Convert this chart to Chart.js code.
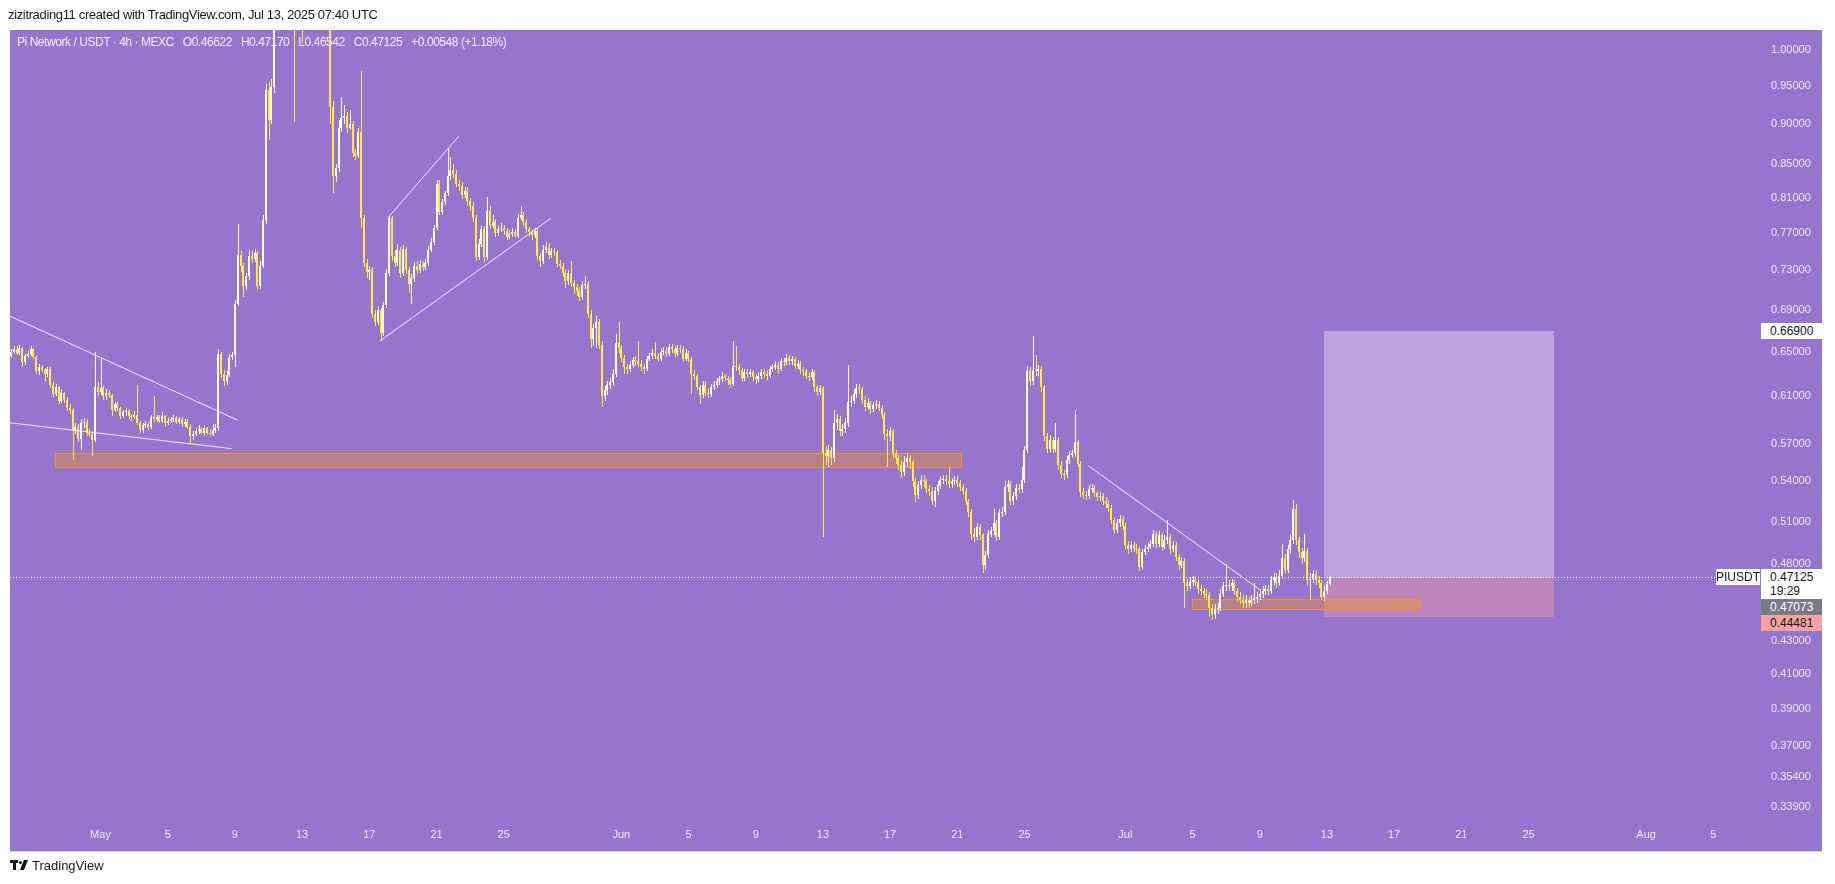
<!DOCTYPE html>
<html>
<head>
<meta charset="utf-8">
<title>Pi Network / USDT 4h</title>
<script src="https://cdn.jsdelivr.net/npm/chart.js@4.4.1/dist/chart.umd.min.js"></script>
<style>
  html, body { margin:0; padding:0; background:#ffffff; }
  #stage { position:relative; width:1835px; height:884px; overflow:hidden; font-family:'Liberation Sans', Arial, sans-serif; }
  #chart { position:absolute; left:0; top:0; }
  .txt { position:absolute; white-space:pre; }
  #credit { left:8px; top:7px; font-size:13px; letter-spacing:-0.35px; color:#131722; }
  #legend { left:17px; top:35px; font-size:12px; letter-spacing:-0.45px; color:#F4F0FB; }
  #legend span { margin-right:9px; }
  .plabel { position:absolute; left:1761px; width:61px; box-sizing:border-box; padding-left:9px; font-size:12px; line-height:16px; height:16px; color:#131722; }
  #lblTarget { background:#ffffff; }
  #lblLast { background:#ffffff; height:30px; line-height:14px; padding-top:1px; }
  #lblEntry { background:#787B86; color:#ffffff; }
  #lblStop { background:#F7A1A1; }
  #lblSym { position:absolute; left:1716px; width:44px; height:16px; line-height:16px; font-size:12px; background:#ffffff; color:#131722; text-align:center; }
  #footer { left:32px; top:858px; font-size:13px; color:#131722; }
  .logo { position:absolute; background:#131722; }
</style>
</head>
<body>
<div id="stage">
  <canvas id="chart" width="1835" height="884"></canvas>
  <div id="credit" class="txt">zizitrading11 created with TradingView.com, Jul 13, 2025 07:40 UTC</div>
  <div id="legend" class="txt"><span>Pi Network / USDT · 4h · MEXC</span><span>O0.46622</span><span>H0.47170</span><span>L0.46542</span><span>C0.47125</span><span>+0.00548 (+1.18%)</span></div>
  <div id="lblTarget" class="plabel">0.66900</div>
  <div id="lblSym">PIUSDT</div>
  <div id="lblLast" class="plabel">0.47125<br>19:29</div>
  <div id="lblEntry" class="plabel">0.47073</div>
  <div id="lblStop" class="plabel">0.44481</div>
  <div class="logo" style="left:10px;top:860px;width:8px;height:3px;"></div>
  <div class="logo" style="left:13px;top:860px;width:3px;height:10px;"></div>
  <div class="logo" style="left:19px;top:861px;width:3px;height:3px;border-radius:50%;"></div>
  <div class="logo" style="left:22px;top:860px;width:4px;height:10px;transform:skewX(-22deg);"></div>
  <div id="footer" class="txt">TradingView</div>
</div>
<script>
// ---- data: PI/USDT 4h candles (MEXC), first bar = Apr 25 16:00 UTC ----
const firstBar = -32;          // bar offset (4h bars) from May 1 00:00 UTC
const firstOpen = 0.646;

const closes = [
 0.650,0.652,
 0.649,0.653,0.640,0.646,0.648,0.652,
 0.645,0.632,0.636,0.633,0.630,0.634,
 0.620,0.612,0.618,0.606,0.613,0.607,
 0.600,0.598,0.581,0.584,0.574,0.587,
 0.588,0.579,0.578,0.573,0.618,0.614,
 0.617,0.610,0.613,0.611,0.598,0.603,
 0.600,0.593,0.596,0.597,0.593,0.592,
 0.594,0.587,0.581,0.585,0.586,0.584,
 0.592,0.590,0.592,0.589,0.593,0.587,
 0.589,0.590,0.591,0.588,0.590,0.586,
 0.588,0.584,0.576,0.578,0.580,0.582,
 0.579,0.583,0.579,0.578,0.581,0.583,
 0.648,0.630,0.623,0.629,0.645,0.647,
 0.696,0.746,0.735,0.714,0.724,0.745,
 0.742,0.748,0.714,0.735,0.784,0.945,
 0.905,0.948,1.12,1.18,1.25,1.30,
 1.42,1.55,1.38,1.30,1.35,1.24,
 1.15,1.22,1.18,1.25,1.20,1.16,
 1.14,1.12,1.10,1.08,0.922,0.835,
 0.845,0.895,0.907,0.910,0.895,0.900,
 0.863,0.860,0.889,0.787,0.738,0.728,
 0.730,0.686,0.678,0.690,0.668,0.695,
 0.727,0.787,0.745,0.738,0.752,0.727,
 0.753,0.730,0.716,0.722,0.735,0.730,
 0.737,0.733,0.738,0.752,0.760,0.776,
 0.826,0.794,0.805,0.815,0.835,0.842,
 0.838,0.826,0.823,0.813,0.818,0.806,
 0.800,0.787,0.744,0.758,0.774,0.744,
 0.795,0.778,0.782,0.770,0.774,0.776,
 0.772,0.766,0.769,0.771,0.767,0.787,
 0.790,0.782,0.774,0.771,0.768,0.772,
 0.745,0.740,0.752,0.755,0.746,0.750,
 0.749,0.737,0.735,0.727,0.719,0.727,
 0.717,0.713,0.709,0.703,0.715,0.716,
 0.686,0.662,0.672,0.678,0.656,0.610,
 0.615,0.620,0.622,0.630,0.658,0.653,
 0.644,0.636,0.634,0.638,0.642,0.641,
 0.639,0.636,0.634,0.643,0.646,0.649,
 0.646,0.643,0.650,0.651,0.648,0.654,
 0.652,0.648,0.653,0.652,0.643,0.649,
 0.643,0.630,0.628,0.618,0.611,0.620,
 0.613,0.612,0.618,0.620,0.623,0.625,
 0.628,0.626,0.624,0.621,0.637,0.636,
 0.633,0.626,0.631,0.630,0.631,0.627,
 0.625,0.628,0.631,0.630,0.628,0.634,
 0.636,0.638,0.634,0.641,0.640,0.644,
 0.641,0.643,0.637,0.639,0.633,0.632,
 0.628,0.627,0.631,0.618,0.614,0.617,
 0.562,0.560,0.565,0.558,0.587,0.590,
 0.580,0.582,0.587,0.605,0.606,0.612,
 0.617,0.616,0.607,0.601,0.604,0.599,
 0.602,0.603,0.600,0.594,0.578,0.576,
 0.580,0.562,0.558,0.553,0.547,0.555,
 0.558,0.555,0.540,0.530,0.537,0.541,
 0.540,0.534,0.533,0.525,0.533,0.537,
 0.541,0.542,0.540,0.538,0.540,0.541,
 0.539,0.536,0.533,0.525,0.517,0.501,
 0.499,0.506,0.500,0.479,0.486,0.501,
 0.503,0.509,0.499,0.516,0.517,0.536,
 0.538,0.525,0.529,0.535,0.534,0.541,
 0.565,0.632,0.623,0.633,0.632,0.634,
 0.618,0.576,0.566,0.573,0.566,0.573,
 0.553,0.546,0.545,0.557,0.561,0.562,
 0.571,0.554,0.532,0.530,0.529,0.534,
 0.535,0.531,0.528,0.529,0.525,0.523,
 0.520,0.511,0.504,0.509,0.512,0.507,
 0.493,0.490,0.493,0.491,0.490,0.478,
 0.488,0.490,0.492,0.494,0.501,0.494,
 0.500,0.492,0.497,0.499,0.490,0.493,
 0.485,0.479,0.482,0.467,0.465,0.468,
 0.469,0.468,0.463,0.462,0.460,0.459,
 0.451,0.447,0.450,0.451,0.460,0.465,
 0.466,0.465,0.467,0.462,0.458,0.456,
 0.454,0.456,0.454,0.456,0.457,0.458,
 0.460,0.462,0.463,0.462,0.469,0.471,
 0.467,0.472,0.484,0.476,0.490,0.497,
 0.519,0.497,0.488,0.484,0.489,0.469,
 0.470,0.473,0.469,0.467,0.458,0.462,
 0.46622,0.47125
];

const highs = [
 0.652,0.655,
 0.655,0.656,0.654,0.648,0.651,0.655,
 0.653,0.647,0.639,0.638,0.635,0.636,
 0.636,0.622,0.621,0.619,0.616,0.614,
 0.609,0.603,0.600,0.587,0.586,0.590,
 0.591,0.590,0.582,0.580,0.650,0.622,
 0.645,0.619,0.616,0.615,0.612,0.605,
 0.605,0.601,0.598,0.600,0.599,0.595,
 0.597,0.620,0.589,0.587,0.589,0.588,
 0.594,0.610,0.594,0.594,0.596,0.594,
 0.591,0.592,0.594,0.593,0.592,0.592,
 0.590,0.590,0.586,0.580,0.583,0.585,
 0.584,0.585,0.584,0.582,0.586,0.586,
 0.652,0.650,0.633,0.632,0.648,0.650,
 0.700,0.780,0.752,0.738,0.727,0.752,
 0.752,0.753,0.750,0.740,0.790,0.952,
 0.955,0.960,1.15,1.22,1.30,1.36,
 1.48,1.66,1.58,1.42,1.40,1.37,
 1.26,1.25,1.24,1.28,1.27,1.22,
 1.18,1.16,1.14,1.12,1.09,0.930,
 0.850,0.905,0.935,0.925,0.915,0.918,
 0.903,0.868,0.895,0.970,0.790,0.742,
 0.735,0.733,0.690,0.694,0.692,0.698,
 0.731,0.789,0.789,0.752,0.758,0.755,
 0.757,0.755,0.733,0.726,0.739,0.740,
 0.741,0.740,0.742,0.756,0.764,0.779,
 0.830,0.830,0.808,0.818,0.870,0.858,
 0.850,0.842,0.830,0.828,0.822,0.822,
 0.810,0.805,0.790,0.763,0.778,0.778,
 0.811,0.800,0.790,0.785,0.778,0.781,
 0.779,0.775,0.773,0.775,0.774,0.791,
 0.800,0.793,0.785,0.777,0.774,0.776,
 0.775,0.748,0.757,0.760,0.759,0.754,
 0.754,0.752,0.741,0.738,0.731,0.730,
 0.740,0.720,0.716,0.713,0.719,0.724,
 0.719,0.690,0.676,0.684,0.681,0.660,
 0.619,0.623,0.626,0.634,0.667,0.678,
 0.656,0.647,0.639,0.641,0.645,0.646,
 0.660,0.642,0.639,0.646,0.649,0.652,
 0.659,0.649,0.653,0.654,0.654,0.657,
 0.657,0.655,0.656,0.656,0.655,0.652,
 0.651,0.645,0.633,0.630,0.620,0.623,
 0.623,0.617,0.621,0.623,0.626,0.628,
 0.631,0.630,0.628,0.627,0.660,0.655,
 0.639,0.635,0.634,0.634,0.634,0.633,
 0.630,0.631,0.634,0.634,0.633,0.637,
 0.639,0.641,0.640,0.644,0.644,0.648,
 0.647,0.646,0.645,0.642,0.641,0.636,
 0.634,0.631,0.634,0.633,0.620,0.620,
 0.619,0.568,0.569,0.567,0.598,0.595,
 0.593,0.586,0.591,0.638,0.610,0.616,
 0.621,0.621,0.618,0.610,0.608,0.606,
 0.605,0.607,0.606,0.602,0.596,0.582,
 0.584,0.582,0.565,0.561,0.556,0.560,
 0.562,0.561,0.557,0.543,0.540,0.545,
 0.545,0.542,0.537,0.536,0.536,0.540,
 0.544,0.545,0.545,0.5515,0.543,0.544,
 0.544,0.541,0.538,0.535,0.527,0.519,
 0.505,0.509,0.508,0.502,0.489,0.504,
 0.506,0.519,0.511,0.519,0.521,0.540,
 0.541,0.540,0.532,0.538,0.538,0.5515,
 0.568,0.637,0.636,0.665,0.647,0.638,
 0.637,0.620,0.579,0.577,0.575,0.5867,
 0.575,0.556,0.549,0.560,0.564,0.565,
 0.598,0.573,0.556,0.535,0.533,0.537,
 0.538,0.537,0.533,0.532,0.531,0.528,
 0.526,0.522,0.513,0.512,0.515,0.514,
 0.509,0.496,0.496,0.495,0.494,0.492,
 0.490,0.493,0.495,0.497,0.504,0.503,
 0.503,0.502,0.500,0.511,0.501,0.496,
 0.495,0.487,0.485,0.484,0.470,0.471,
 0.472,0.472,0.470,0.466,0.464,0.463,
 0.461,0.453,0.453,0.454,0.463,0.468,
 0.480,0.469,0.470,0.469,0.464,0.461,
 0.459,0.459,0.458,0.459,0.467,0.461,
 0.463,0.465,0.466,0.466,0.472,0.474,
 0.474,0.476,0.494,0.487,0.493,0.501,
 0.5259,0.523,0.499,0.491,0.501,0.491,
 0.474,0.476,0.476,0.472,0.469,0.465,
 0.4685,0.4717
];

const lows = [
 0.644,0.648,
 0.647,0.647,0.636,0.638,0.644,0.646,
 0.643,0.630,0.629,0.631,0.622,0.627,
 0.617,0.609,0.610,0.603,0.604,0.604,
 0.597,0.595,0.557,0.578,0.571,0.565,
 0.583,0.576,0.575,0.560,0.571,0.610,
 0.611,0.607,0.607,0.608,0.593,0.596,
 0.597,0.590,0.591,0.593,0.590,0.589,
 0.590,0.585,0.579,0.579,0.583,0.581,
 0.582,0.588,0.588,0.587,0.587,0.584,
 0.585,0.587,0.588,0.586,0.586,0.584,
 0.584,0.582,0.570,0.573,0.576,0.578,
 0.577,0.576,0.577,0.576,0.576,0.579,
 0.580,0.626,0.619,0.620,0.627,0.642,
 0.636,0.694,0.728,0.703,0.710,0.720,
 0.738,0.739,0.710,0.711,0.732,0.780,
 0.880,0.900,0.940,1.10,1.16,1.22,
 1.28,1.40,1.35,0.902,1.25,1.20,
 1.01,1.12,1.15,1.16,1.17,1.13,
 1.10,1.08,1.06,1.055,0.900,0.815,
 0.828,0.840,0.890,0.900,0.888,0.892,
 0.858,0.855,0.857,0.775,0.733,0.722,
 0.720,0.682,0.674,0.675,0.660,0.665,
 0.692,0.724,0.740,0.733,0.735,0.722,
 0.724,0.726,0.707,0.696,0.718,0.726,
 0.727,0.729,0.730,0.735,0.749,0.757,
 0.773,0.790,0.790,0.801,0.812,0.830,
 0.833,0.822,0.818,0.808,0.809,0.800,
 0.795,0.782,0.740,0.741,0.755,0.739,
 0.741,0.774,0.775,0.766,0.767,0.771,
 0.768,0.762,0.763,0.766,0.764,0.765,
 0.784,0.778,0.770,0.766,0.762,0.765,
 0.741,0.733,0.737,0.748,0.742,0.743,
 0.745,0.734,0.731,0.723,0.712,0.715,
 0.713,0.706,0.704,0.699,0.700,0.711,
 0.682,0.653,0.655,0.653,0.652,0.601,
 0.606,0.611,0.616,0.619,0.627,0.649,
 0.640,0.630,0.630,0.631,0.635,0.637,
 0.636,0.632,0.630,0.632,0.641,0.643,
 0.643,0.640,0.641,0.647,0.645,0.646,
 0.649,0.645,0.646,0.649,0.640,0.641,
 0.640,0.612,0.624,0.615,0.603,0.608,
 0.610,0.608,0.609,0.615,0.617,0.620,
 0.622,0.623,0.620,0.617,0.619,0.632,
 0.629,0.622,0.623,0.626,0.627,0.623,
 0.621,0.622,0.625,0.626,0.624,0.626,
 0.631,0.633,0.630,0.632,0.637,0.638,
 0.638,0.638,0.634,0.634,0.630,0.628,
 0.625,0.623,0.624,0.614,0.610,0.611,
 0.499,0.553,0.5515,0.553,0.555,0.581,
 0.576,0.576,0.579,0.584,0.601,0.603,
 0.608,0.612,0.603,0.597,0.598,0.595,
 0.596,0.599,0.597,0.590,0.573,0.5515,
 0.572,0.558,0.554,0.549,0.543,0.544,
 0.551,0.550,0.536,0.5245,0.527,0.534,
 0.536,0.531,0.529,0.522,0.521,0.530,
 0.534,0.538,0.537,0.535,0.535,0.537,
 0.536,0.533,0.530,0.522,0.513,0.497,
 0.495,0.497,0.497,0.4736,0.476,0.484,
 0.499,0.500,0.496,0.497,0.513,0.515,
 0.532,0.522,0.522,0.526,0.531,0.531,
 0.539,0.562,0.619,0.620,0.628,0.628,
 0.614,0.572,0.562,0.563,0.562,0.563,
 0.549,0.543,0.541,0.543,0.554,0.558,
 0.559,0.551,0.528,0.527,0.526,0.527,
 0.531,0.528,0.525,0.525,0.522,0.520,
 0.517,0.508,0.501,0.502,0.506,0.504,
 0.490,0.487,0.488,0.488,0.487,0.475,
 0.476,0.486,0.488,0.490,0.492,0.491,
 0.492,0.489,0.490,0.494,0.487,0.488,
 0.482,0.476,0.477,0.451,0.462,0.463,
 0.465,0.465,0.460,0.459,0.457,0.456,
 0.445,0.443,0.444,0.447,0.449,0.458,
 0.462,0.462,0.462,0.459,0.455,0.453,
 0.451,0.451,0.451,0.452,0.453,0.454,
 0.456,0.457,0.459,0.459,0.460,0.466,
 0.464,0.465,0.470,0.473,0.474,0.487,
 0.494,0.493,0.484,0.480,0.481,0.465,
 0.4559,0.467,0.466,0.464,0.456,0.455,
 0.4595,0.46542
];

// axis ticks
const xTickDays   = [0,4,8,12,16,20,24,31,35,39,43,47,51,55,61,65,69,73,77,81,85,92,96];
const xTickLabels = ['May','5','9','13','17','21','25','Jun','5','9','13','17','21','25','Jul','5','9','13','17','21','25','Aug','5'];
const yTickValues = [1.0,0.95,0.9,0.85,0.81,0.77,0.73,0.69,0.65,0.61,0.57,0.54,0.51,0.48,0.43,0.41,0.39,0.37,0.354,0.339];

// drawings (bar index, price)
const zoneFromBar  = [-16.25, 389.8];
const zoneToBar    = [307.3, 470.9];
const zoneHigh     = [0.5621, 0.4563];
const zoneLow      = [0.5510, 0.4499];
const trendFromBar   = [-32.4, -32.4, 102.8, 99.8, 352.8];
const trendFromPrice = [0.6839, 0.5872, 0.7875, 0.6600, 0.5523];
const trendToBar     = [48.86, 46.86, 127.9, 160.8, 414.1];
const trendToPrice   = [0.5895, 0.5659, 0.8840, 0.7863, 0.4625];
const positionBars   = [437.0, 519.1];
const positionPrices = [0.669, 0.47073, 0.44481]; // target, entry, stop
const lastPrice = 0.47125;

// ---- build ----
const opens = closes.map((c, i) => i === 0 ? firstOpen : closes[i - 1]);
const barX = closes.map((c, i) => firstBar + i);
const colors = closes.map((c, i) => c >= opens[i] ? '#FFFFFF' : '#FFEB3B');

const PANE = '#9575CD';
const X_MIN = (10 - 100.5) / 2.8;    // left edge of pane in bars
const X_MAX = (1716 - 100.5) / 2.8;  // right edge of pane in bars
const Y_MAX = Math.exp(20 / 700.2);
const Y_MIN = Math.exp(-772 / 700.2);

const overlay = {
  id: 'overlay',
  beforeDraw(chart) {
    const ctx = chart.ctx;
    ctx.save();
    ctx.fillStyle = '#ffffff';
    ctx.fillRect(0, 0, chart.width, chart.height);
    ctx.fillStyle = PANE;
    ctx.fillRect(10, 30, 1812, 821);
    ctx.fillStyle = '#d9cff0';
    ctx.fillRect(10, 851, 1812, 1);
    ctx.restore();
  },
  beforeDatasetsDraw(chart) {
    const { ctx, chartArea: a, scales: { x, y } } = chart;
    ctx.save();
    ctx.beginPath();
    ctx.rect(a.left, a.top, a.right - a.left, a.bottom - a.top);
    ctx.clip();
    // position box
    const px1 = Math.round(x.getPixelForValue(positionBars[0]));
    const px2 = Math.round(x.getPixelForValue(positionBars[1]));
    const yT = Math.round(y.getPixelForValue(positionPrices[0]));
    const yE = Math.round(y.getPixelForValue(positionPrices[1]));
    const yS = Math.round(y.getPixelForValue(positionPrices[2]));
    ctx.fillStyle = 'rgba(255,255,255,0.34)';
    ctx.fillRect(px1, yT, px2 - px1, yE - yT);
    ctx.fillStyle = 'rgba(251,162,155,0.40)';
    ctx.fillRect(px1, yE, px2 - px1, yS - yE);
    // zones
    for (let i = 0; i < zoneFromBar.length; i++) {
      const zx1 = Math.round(x.getPixelForValue(zoneFromBar[i])) + 0.5;
      const zx2 = Math.round(x.getPixelForValue(zoneToBar[i])) + 0.5;
      const zy1 = Math.round(y.getPixelForValue(zoneHigh[i])) + 0.5;
      const zy2 = Math.round(y.getPixelForValue(zoneLow[i])) + 0.5;
      ctx.fillStyle = 'rgba(255,152,0,0.32)';
      ctx.fillRect(zx1, zy1, zx2 - zx1, zy2 - zy1);
      ctx.strokeStyle = '#F7941D';
      ctx.lineWidth = 1;
      ctx.strokeRect(zx1, zy1, zx2 - zx1, zy2 - zy1);
    }
    ctx.restore();
  },
  beforeDatasetDraw(chart, args) {
    // snap candle elements (positioned by the scales) to whole pixels for crisp rendering
    const wick = args.index === 0;
    args.meta.data.forEach(el => {
      const cx = Math.round(el.x);
      if (wick) { el.x = cx + 0.5; el.width = 1; }
      else { el.x = cx; el.width = 2; }
      el.y = Math.round(el.y);
      el.base = Math.round(el.base);
      if (Math.abs(el.y - el.base) < 1) el.base = el.y + 1;
    });
  },
  afterDatasetsDraw(chart) {
    const { ctx, chartArea: a, scales: { x, y } } = chart;
    ctx.save();
    ctx.beginPath();
    ctx.rect(a.left, a.top, a.right - a.left, a.bottom - a.top);
    ctx.clip();
    ctx.strokeStyle = 'rgba(255,255,255,0.85)';
    ctx.lineWidth = 1;
    for (let i = 0; i < trendFromBar.length; i++) {
      ctx.beginPath();
      ctx.moveTo(x.getPixelForValue(trendFromBar[i]), y.getPixelForValue(trendFromPrice[i]));
      ctx.lineTo(x.getPixelForValue(trendToBar[i]), y.getPixelForValue(trendToPrice[i]));
      ctx.stroke();
    }
    // last price dotted line
    const yl = Math.round(y.getPixelForValue(lastPrice)) + 0.5;
    ctx.setLineDash([1, 2]);
    ctx.strokeStyle = '#ffffff';
    ctx.beginPath();
    ctx.moveTo(a.left, yl);
    ctx.lineTo(a.right, yl);
    ctx.stroke();
    ctx.restore();
  }
};

Chart.defaults.font.family = "'Liberation Sans', Arial, sans-serif";
Chart.defaults.font.size = 11;

const chart = new Chart(document.getElementById('chart'), {
  type: 'bar',
  data: {
    datasets: [
      {
        label: 'wick',
        data: barX.map((bx, i) => ({ x: bx, y: [lows[i], highs[i]] })),
        backgroundColor: colors,
        maxBarThickness: 1,
        grouped: false,
        order: 2
      },
      {
        label: 'body',
        data: barX.map((bx, i) => ({ x: bx, y: [opens[i], closes[i]] })),
        backgroundColor: colors,
        maxBarThickness: 2,
        minBarLength: 1,
        grouped: false,
        order: 1
      }
    ]
  },
  options: {
    responsive: false,
    maintainAspectRatio: false,
    animation: false,
    events: [],
    layout: { padding: { left: 10, top: 30, right: 0, bottom: 0 } },
    plugins: { legend: { display: false }, tooltip: { enabled: false } },
    scales: {
      x: {
        type: 'linear',
        min: X_MIN,
        max: X_MAX,
        offset: false,
        grid: { display: false, drawTicks: false },
        border: { display: false },
        ticks: {
          color: '#EEEAF6',
          padding: 6,
          maxRotation: 0,
          autoSkip: false,
          callback: (v) => {
            const i = xTickDays.indexOf(Math.round(v / 6));
            return (i >= 0 && Math.abs(v - xTickDays[i] * 6) < 0.01) ? xTickLabels[i] : '';
          }
        },
        afterBuildTicks: (s) => { s.ticks = xTickDays.map(d => ({ value: d * 6 })); },
        afterFit: (s) => { s.height = 62; s.paddingLeft = 0; s.paddingRight = 0; }
      },
      y: {
        type: 'logarithmic',
        position: 'right',
        min: Y_MIN,
        max: Y_MAX,
        grid: { display: false, drawTicks: false },
        border: { display: false },
        ticks: {
          color: '#EEEAF6',
          padding: 55,
          autoSkip: false,
          callback: (v) => Number(v).toFixed(5)
        },
        afterBuildTicks: (s) => { s.ticks = yTickValues.map(v => ({ value: v })); },
        afterFit: (s) => { s.width = 119; s.paddingTop = 0; s.paddingBottom = 0; }
      }
    }
  },
  plugins: [overlay]
});

// price-scale labels anchored to the y scale
(function placeLabels() {
  const ys = chart.scales.y;
  const set = (id, top) => { document.getElementById(id).style.top = Math.round(top) + 'px'; };
  set('lblTarget', ys.getPixelForValue(positionPrices[0]) - 8);
  const yl = ys.getPixelForValue(lastPrice);
  set('lblLast', yl - 8);
  set('lblSym', yl - 8);
  set('lblEntry', yl - 8 + 30);
  set('lblStop', yl - 8 + 46);
})();
</script>
</body>
</html>
